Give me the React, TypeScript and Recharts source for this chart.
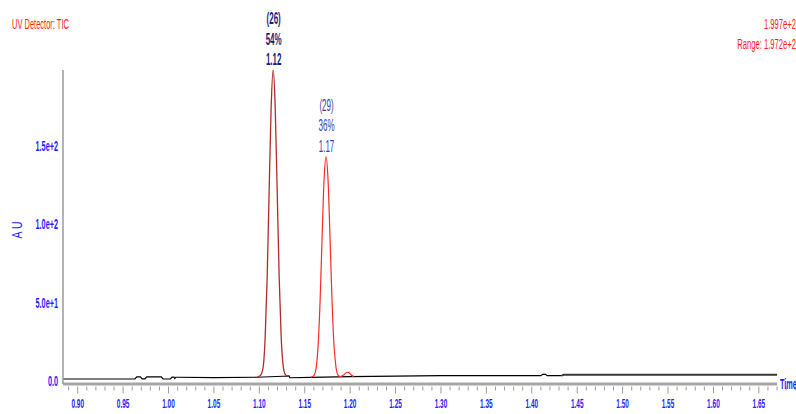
import React from 'react';
import { LineChart, Line, XAxis, YAxis, ReferenceDot } from 'recharts';

const FONT = "'Liberation Sans', Arial, sans-serif";
const RED_TEXT = '#ff1c1c';
const BLUE_TEXT = '#1e1eff';

// Detector trace outside the integrated peaks (black), including the integration baselines
const baseTimes = [0.8838, 0.963, 0.965, 0.969, 0.971, 0.974, 0.976, 0.992, 0.994, 1.002, 1.004, 1.006, 1.007, 1.008, 1.01, 1.05, 1.0971, 1.133, 1.1335, 1.157, 1.2, 1.3, 1.41, 1.412, 1.415, 1.417, 1.433];
const baseValues = [2.5, 2.5, 3.8, 3.8, 2.6, 2.6, 3.8, 3.8, 2.5, 2.5, 3.7, 3.7, 2.8, 3.6, 3.6, 3.4, 3.6, 4.4, 3.3, 3.5, 4.0, 4.6, 4.6, 5.5, 5.5, 4.6, 4.6];

// Late part of the run, drawn heavier
const tailTimes = [1.433, 1.435, 1.67];
const tailValues = [4.6, 5.2, 5.2];

// Peak at 1.12 min
const peak1Times = [1.0971, 1.0998, 1.102, 1.1042, 1.1064, 1.1086, 1.1108, 1.113, 1.1152, 1.1174, 1.1196, 1.1218, 1.124, 1.1262, 1.1284, 1.1306, 1.133];
const peak1Values = [3.6, 4.2, 5.5, 10, 29, 67, 123, 176, 199.7, 177, 124, 68, 30, 11, 5.5, 4.5, 4.4];

// Peak at 1.17 min
const peak2Times = [1.157, 1.1602, 1.1624, 1.1646, 1.1668, 1.169, 1.1712, 1.1734, 1.1756, 1.1778, 1.18, 1.1822, 1.1844, 1.1866, 1.1888];
const peak2Values = [3.5, 4.8, 9, 23, 51, 91, 129, 144.2, 130, 93, 53, 24, 10, 5, 4.0];

// Small shoulder after the second peak
const bumpTimes = [1.1888, 1.1932, 1.1965, 1.1987, 1.2009, 1.204];
const bumpValues = [3.9, 5.2, 6.8, 6.6, 5.2, 4.0];

// Peak annotations
const peakScans = ['(26)', '(29)'];
const peakAreas = ['54%', '36%'];

// Axis ticks
const xTickLabels = [0.9, 0.95, 1.0, 1.05, 1.1, 1.15, 1.2, 1.25, 1.3, 1.35, 1.4, 1.45, 1.5, 1.55, 1.6, 1.65];
const yTicks = [0, 50, 100, 150];

const toRows = (ts: number[], vs: number[]) => ts.map((t, i) => ({ t, v: vs[i] }));

const baseData = toRows(baseTimes, baseValues);
const tailData = toRows(tailTimes, tailValues);
const peak1Data = toRows(peak1Times, peak1Values);
const peak2Data = toRows(peak2Times, peak2Values);
const bumpData = toRows(bumpTimes, bumpValues);

const allValues = [...baseValues, ...tailValues, ...peak1Values, ...peak2Values, ...bumpValues];
const maxValue = Math.max(...allValues);
const minValue = Math.min(...allValues);

const apexOf = (rows: { t: number; v: number }[]) =>
  rows.reduce((best, r) => (r.v > best.v ? r : best), rows[0]);
const peakApexes = [apexOf(peak1Data), apexOf(peak2Data)];

// Minor ticks every 0.01 between the labelled 0.05 ticks
const xTicks: number[] = [];
xTickLabels.forEach((major, i) => {
  if (i === 0) xTicks.push(+(major - 0.01).toFixed(2));
  xTicks.push(major);
  for (let k = 1; k <= 4; k++) xTicks.push(+(major + k * 0.01).toFixed(2));
});
const isMajor = (v: number) => xTickLabels.some((m) => Math.abs(m - v) < 1e-6);

type NarrowProps = {
  x: number;
  y: number;
  text: string;
  size: number;
  fill: string;
  anchor?: 'start' | 'middle' | 'end';
  weight?: string | number;
  sx?: number;
  rotate?: number;
};

// Condensed lettering used throughout the chromatogram
function NarrowText({ x, y, text, size, fill, anchor = 'start', weight = 'normal', sx = 0.52, rotate = 0 }: NarrowProps) {
  const tf = `translate(${x},${y})${rotate ? ` rotate(${rotate})` : ''} scale(${sx},1)`;
  return (
    <text transform={tf} textAnchor={anchor} fontFamily={FONT} fontSize={size} fontWeight={weight} fill={fill}>
      {text}
    </text>
  );
}

function XTick(props: any) {
  const { x, y, payload } = props;
  const v = payload.value as number;
  const major = isMajor(v);
  return (
    <g>
      <line x1={x} x2={x} y1={y + 2.5} y2={y + (major ? 9.5 : 6.5)} stroke="#9c9c9c" strokeWidth={1} />
      {major && (
        <NarrowText x={x} y={y + 23.5} text={v.toFixed(2)} size={12.5} fill={BLUE_TEXT} anchor="middle" weight="bold" sx={0.52} />
      )}
    </g>
  );
}

function YTick(props: any) {
  const { x, y, payload } = props;
  const v = payload.value as number;
  const label = v === 0 ? '0.0' : v.toExponential(1);
  return <NarrowText x={x} y={y + 3} text={label} size={14} fill={BLUE_TEXT} anchor="end" weight="bold" sx={0.52} />;
}

function PeakLabel(props: any) {
  const { viewBox, scan, area, time, fill, weight } = props;
  const cx = viewBox.x + viewBox.width / 2 + 0.5;
  const cy = viewBox.y + viewBox.height / 2;
  return (
    <g>
      <NarrowText x={cx} y={cy - 46} text={scan} size={16} fill={fill} anchor="middle" weight={weight} sx={0.5} />
      <NarrowText x={cx} y={cy - 25.5} text={area} size={16} fill={fill} anchor="middle" weight={weight} sx={0.5} />
      <NarrowText x={cx} y={cy - 5} text={time} size={16} fill={fill} anchor="middle" weight={weight} sx={0.5} />
    </g>
  );
}

const peakLabelStyles = [
  { fill: '#1c1c78', weight: 'bold' },
  { fill: '#3e3ea0', weight: 'normal' },
];

export default function App() {
  return (
    <div style={{ position: 'absolute', left: 0, top: 0, width: 796, height: 414, background: '#ffffff' }}>
      <LineChart width={796} height={414} margin={{ top: 70, right: 19, bottom: 0, left: 0 }}>
        <XAxis
          dataKey="t"
          type="number"
          domain={[0.8838, 1.67]}
          ticks={xTicks}
          interval={0}
          allowDataOverflow
          tick={<XTick />}
          tickLine={false}
          tickSize={0}
          tickMargin={0}
          axisLine={{ stroke: '#a6a6a6', strokeWidth: 3 }}
          height={30}
        />
        <YAxis
          type="number"
          domain={[-0.7, 199.7]}
          ticks={yTicks}
          interval={0}
          allowDataOverflow
          tick={<YTick />}
          tickLine={false}
          tickSize={0}
          tickMargin={5}
          axisLine={{ stroke: '#9a9a9a', strokeWidth: 1.5 }}
          width={63}
        />
        <Line data={baseData} dataKey="v" type="linear" stroke="#000000" strokeWidth={1.2} dot={false} isAnimationActive={false} />
        <Line data={tailData} dataKey="v" type="linear" stroke="#3a3a3a" strokeWidth={2} dot={false} isAnimationActive={false} />
        <Line data={peak1Data} dataKey="v" type="monotone" stroke="#b02c2c" strokeWidth={1.3} dot={false} isAnimationActive={false} />
        <Line data={peak2Data} dataKey="v" type="monotone" stroke="#ff2a2a" strokeWidth={1.2} dot={false} isAnimationActive={false} />
        <Line data={bumpData} dataKey="v" type="monotone" stroke="#ff2a2a" strokeWidth={1.2} dot={false} isAnimationActive={false} />
        {peakApexes.map((p, i) => (
          <ReferenceDot
            key={`apex-${i}`}
            x={p.t}
            y={p.v}
            r={1}
            fill="none"
            stroke="none"
            ifOverflow="visible"
            label={
              <PeakLabel
                scan={peakScans[i]}
                area={peakAreas[i]}
                time={p.t.toFixed(2)}
                fill={peakLabelStyles[i].fill}
                weight={peakLabelStyles[i].weight}
              />
            }
          />
        ))}
      </LineChart>
      <svg
        width={796}
        height={414}
        style={{ position: 'absolute', left: 0, top: 0, pointerEvents: 'none' }}
      >
        <NarrowText x={12} y={29} text="UV Detector: TIC" size={15} fill={RED_TEXT} sx={0.5} />
        <NarrowText x={796} y={28.5} text={maxValue.toExponential(3)} size={15} fill={RED_TEXT} anchor="end" sx={0.51} />
        <NarrowText x={796} y={48.5} text={`Range: ${(maxValue - minValue).toExponential(3)}`} size={15} fill={RED_TEXT} anchor="end" sx={0.51} />
        <NarrowText x={22} y={230} text="A U" size={14} fill={BLUE_TEXT} anchor="middle" sx={0.75} rotate={-90} />
        <NarrowText x={780} y={389} text="Time" size={14} fill={BLUE_TEXT} weight="bold" sx={0.52} />
      </svg>
    </div>
  );
}
